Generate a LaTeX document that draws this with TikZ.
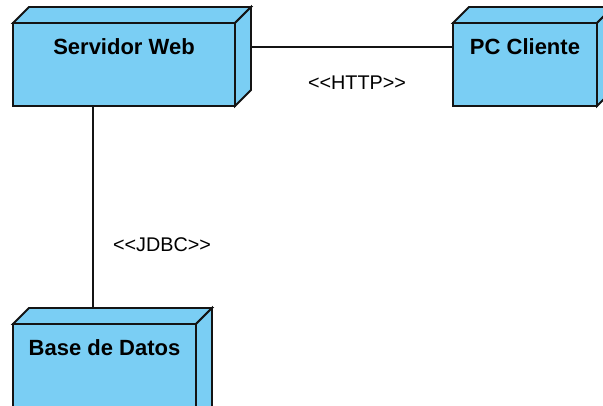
\documentclass[tikz,border=0pt]{standalone}
\usepackage{fontspec}
\setmainfont{Liberation Sans}
\definecolor{nodefill}{RGB}{122,206,244}
\definecolor{edgeline}{RGB}{20,20,20}
\tikzset{
  cubeface/.style={draw=edgeline, fill=nodefill, line width=1.8pt, line join=miter},
  cubetitle/.style={font=\bfseries\fontsize{22}{26}\selectfont, inner sep=0pt},
  cubehull/.style={inner sep=0pt, outer sep=0pt},
  conn/.style={draw=edgeline, line width=1.3pt},
  stereo/.style={font=\fontsize{19.8}{24}\selectfont, inner sep=0pt}
}
% name, x1, y1, x2, y2, text
\newcommand\depnode[6]{%
  \pgfmathsetmacro\dnw{#4-#2+16}%
  \pgfmathsetmacro\dnh{#5-#3+16}%
  \pgfmathsetmacro\dnc{(#2+#4)/2}%
  \draw[cubeface] (#2,#3) rectangle (#4,#5);
  \draw[cubeface] (#2,#3) -- ++(16,-16) -- (#4+16,#3-16) -- (#4,#3) -- cycle;
  \draw[cubeface] (#4,#3) -- ++(16,-16) -- (#4+16,#5-16) -- (#4,#5) -- cycle;
  \node[cubehull, minimum width=\dnw pt, minimum height=\dnh pt, anchor=north west] (#1) at (#2,#3-16) {};
  \node[cubetitle] (#1-title) at (\dnc,#3+24) {#6};
}
\begin{document}
\begin{tikzpicture}[x=1pt,y=-1pt]
\useasboundingbox (0,0) rectangle (603,405);
\clip (0,0) rectangle (603,405);
\fill[white] (0,0) rectangle (603,405);

\depnode{sw}{13}{23}{235}{106}{Servidor Web}
\depnode{pc}{453}{23}{597}{106}{PC Cliente}
\depnode{db}{13}{324}{196}{425}{Base de Datos}

\coordinate (httpy) at (0,47);
\coordinate (jdbcx) at (93,0);
\draw[conn] (sw.east |- httpy) -- (pc.west |- httpy);
\draw[conn] (sw.south -| jdbcx) -- (db.north -| jdbcx);

\node[stereo] (http) at (357,83) {<{}<HTTP>{}>};
\node[stereo] (jdbc) at (162,245) {<{}<JDBC>{}>};
\end{tikzpicture}
\end{document}
